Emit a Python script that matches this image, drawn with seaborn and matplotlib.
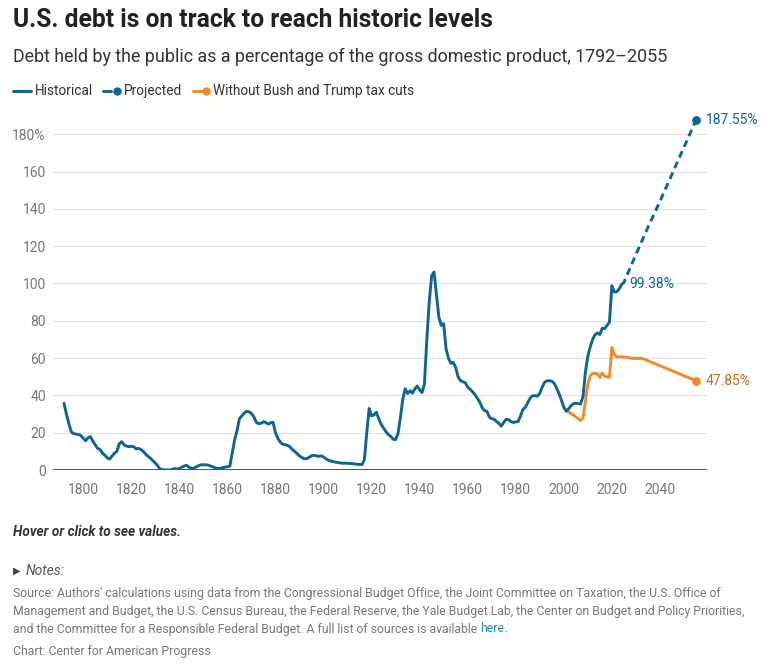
import matplotlib
matplotlib.use("Agg")
import matplotlib.pyplot as plt
import seaborn as sns
import pandas as pd
from matplotlib.lines import Line2D

# historical debt held by the public, % of GDP
hist_years = [1792, 1793, 1794, 1795, 1796, 1798, 1799, 1800, 1801, 1802, 1803, 1804,
              1805, 1806, 1807, 1808, 1809, 1810, 1811, 1812, 1813, 1814, 1815, 1816,
              1817, 1818, 1819, 1820, 1821, 1822, 1823, 1824, 1825, 1826, 1827, 1828,
              1829, 1830, 1831, 1832, 1833, 1834, 1835, 1836, 1837, 1838, 1839, 1840,
              1841, 1842, 1843, 1844, 1845, 1846, 1847, 1848, 1849, 1850, 1851, 1852,
              1853, 1854, 1855, 1856, 1857, 1858, 1859, 1860, 1861, 1862, 1863, 1864,
              1865, 1866, 1867, 1868, 1869, 1870, 1871, 1872, 1873, 1874, 1875, 1876,
              1877, 1878, 1879, 1880, 1881, 1882, 1883, 1884, 1885, 1886, 1887, 1888,
              1889, 1890, 1891, 1892, 1893, 1894, 1895, 1896, 1897, 1898, 1899, 1900,
              1901, 1902, 1903, 1904, 1905, 1906, 1907, 1908, 1909, 1910, 1911, 1912,
              1913, 1914, 1915, 1916, 1917, 1918, 1919, 1920, 1921, 1922, 1923, 1924,
              1925, 1926, 1927, 1928, 1929, 1930, 1931, 1932, 1933, 1934, 1935, 1936,
              1937, 1938, 1939, 1940, 1941, 1942, 1943, 1944, 1945, 1946, 1947, 1948,
              1949, 1950, 1951, 1952, 1953, 1954, 1955, 1956, 1957, 1958, 1959, 1960,
              1961, 1962, 1963, 1964, 1965, 1966, 1967, 1968, 1969, 1970, 1971, 1972,
              1973, 1974, 1975, 1976, 1977, 1978, 1979, 1980, 1981, 1982, 1983, 1984,
              1985, 1986, 1987, 1988, 1989, 1990, 1991, 1992, 1993, 1994, 1995, 1996,
              1997, 1998, 1999, 2000, 2001, 2002, 2003, 2004, 2005, 2006, 2007, 2008,
              2009, 2010, 2011, 2012, 2013, 2014, 2015, 2016, 2017, 2018, 2019, 2020,
              2021, 2022, 2023, 2024]
hist_values = [35.8, 30, 25, 20.5, 19.5, 19, 18.5, 17, 15.7, 17.3, 17.9, 15.5,
               13.5, 11.6, 11, 9, 8, 6.5, 5.9, 7.5, 9, 10, 14, 15.2,
               13.5, 12.8, 12.5, 12.7, 12.5, 11.3, 11.6, 11, 10, 8.5, 7.3, 6.3,
               5, 3.8, 2.2, 0.5, 0.2, 0.1, 0, 0, 0.3, 0.8, 0.5, 0.8,
               1.5, 2.1, 2.5, 1.5, 1, 0.9, 1.7, 2.3, 2.8, 2.8, 2.8, 2.6,
               2.1, 1.6, 1.1, 0.9, 0.8, 1.3, 1.5, 1.8, 2.0, 9, 16, 21,
               27.5, 29, 30.5, 31.5, 31.2, 30.3, 28.6, 25.6, 24.8, 25, 25.9, 25.5,
               24.6, 25.3, 25.6, 20, 17, 15, 13.8, 13.6, 13.2, 12.5, 11, 10,
               8.8, 7.5, 6.7, 6, 6.1, 6.8, 7.6, 7.9, 7.6, 7.3, 7.6, 7,
               6, 5.3, 4.8, 4.5, 4.2, 4, 3.8, 3.6, 3.7, 3.6, 3.5, 3.4,
               3.2, 3.1, 3.0, 2.8, 5.5, 20, 33, 29, 29.5, 31, 27.5, 24.5,
               22.5, 20.5, 19, 18, 16.5, 16.3, 19.5, 28, 38, 43.6, 41, 42.5,
               41.2, 43.5, 45, 43, 41.5, 46, 70, 90, 104, 106.2, 94, 82,
               77.5, 78.5, 65, 60, 57.2, 57.7, 55, 50, 48, 47.3, 46.8, 44.5,
               43.3, 42, 40.5, 38.5, 36.5, 33.5, 31.8, 31.5, 28.4, 27.5, 27.2, 26,
               25, 23.5, 25.5, 27.2, 27.0, 26, 25.5, 25.8, 26, 29, 32.5, 33.6,
               36, 38.5, 39.8, 39.8, 39.6, 41.1, 44.5, 47, 47.8, 47.9, 47.6, 46.5,
               44, 41, 37.5, 33.7, 31.6, 32.7, 34.5, 35.5, 35.8, 35.6, 35.4, 39.5,
               52.5, 61, 66, 70, 72.5, 73.5, 72.6, 76, 75.8, 77.5, 79.2, 98.8,
               95.5, 95.5, 97, 99.38]

proj_years = [2024, 2025, 2030, 2035, 2040, 2045, 2050, 2055]
proj_values = [99.38, 100.5, 115.5, 130, 144, 158.5, 173, 187.55]

cut_years = [2001, 2002, 2003, 2004, 2005, 2006, 2007, 2008, 2009, 2010, 2011, 2012,
             2013, 2014, 2015, 2016, 2017, 2018, 2019, 2020, 2021, 2022, 2023, 2024,
             2025, 2026, 2027, 2028, 2029, 2030, 2031, 2032, 2033, 2055]
cut_values = [31.6, 31.2, 30.2, 29.5, 28.5, 27.5, 26.5, 28, 37, 46, 50.5, 51.8,
              51.8, 51.5, 49.6, 52, 50.3, 50, 49.6, 65.7, 62, 60.7, 60.6, 60.8,
              60.5, 60.5, 60.3, 60, 59.8, 59.8, 59.8, 59.9, 59.7, 47.85]

y_ticks = [0, 20, 40, 60, 80, 100, 120, 140, 160, 180]
y_labels = ["0", "20", "40", "60", "80", "100", "120", "140", "160", "180%"]
x_ticks = [1800, 1820, 1840, 1860, 1880, 1900, 1920, 1940, 1960, 1980, 2000, 2020, 2040]

BLUE = "#0f6590"
ORANGE = "#f28a2a"
ORANGE_TXT = "#c8691a"
GRAY = "#777777"

sns.set_style("white")
plt.rcParams["font.family"] = ["Roboto", "DejaVu Sans"]

W, H = 784, 671
fig = plt.figure(figsize=(W / 100, H / 100), dpi=100)


def fx(x):
    return x / W


def fy(y):
    return 1 - y / H


# axes placed so that 0 sits at y=470px and the grid spans 52..707px
ax = fig.add_axes([fx(52.7), fy(470), fx(707) - fx(52.7), fy(115.6) - fy(470)])

hist = pd.DataFrame({"year": hist_years, "debt": hist_values})
proj = pd.DataFrame({"year": proj_years, "debt": proj_values})
cuts = pd.DataFrame({"year": cut_years, "debt": cut_values})

for yv in y_ticks[1:]:
    ax.axhline(yv, color="#e3e3e3", lw=0.9, zorder=0)
ax.axhline(0, color="#333333", lw=1.2, zorder=1)

sns.lineplot(data=hist, x="year", y="debt", color=BLUE, lw=2.1, ax=ax, zorder=4)
sns.lineplot(data=proj, x="year", y="debt", color=BLUE, lw=2.1, ax=ax,
             dashes=False, linestyle=(0, (2.4, 1.6)), zorder=4)
sns.lineplot(data=cuts, x="year", y="debt", color=ORANGE, lw=2.1, ax=ax, zorder=3)

ax.scatter([proj_years[-1]], [proj_values[-1]], s=28, color=BLUE, zorder=5)
ax.scatter([cut_years[-1]], [cut_values[-1]], s=28, color=ORANGE, zorder=5)

ax.text(proj_years[-1] + 4, proj_values[-1], f"{proj_values[-1]:.2f}%", color=BLUE,
        fontsize=10, va="center", ha="left")
ax.text(proj_years[0] + 3.5, proj_values[0] + 0.5, f"{proj_values[0]:.2f}%", color=BLUE,
        fontsize=10, va="center", ha="left")
ax.text(cut_years[-1] + 4, cut_values[-1], f"{cut_values[-1]:.2f}%", color=ORANGE_TXT,
        fontsize=10, va="center", ha="left")

ax.set_xlim(1787.3, 2059.6)
ax.set_ylim(0, 190)
ax.set_yticks(y_ticks)
ax.set_yticklabels(y_labels)
ax.set_xticks(x_ticks)
ax.tick_params(axis="both", length=0, labelsize=10, colors=GRAY)
ax.tick_params(axis="y", pad=5)
ax.tick_params(axis="x", pad=9)
ax.set_xlabel("")
ax.set_ylabel("")
for s in ax.spines.values():
    s.set_visible(False)
ax.patch.set_alpha(0)

# header
fig.text(fx(13), fy(20), "U.S. debt is on track to reach historic levels",
         fontsize=17.7, fontweight="bold", color="#222222", va="center")
fig.text(fx(13), fy(57), "Debt held by the public as a percentage of the gross domestic product, 1792\u20132055",
         fontsize=12.9, color="#333333", va="center")

# legend
ly = fy(91)
fig.add_artist(Line2D([fx(13), fx(31)], [ly, ly], color=BLUE, lw=2.1))
fig.text(fx(35), ly, "Historical", fontsize=9.8, color="#333333", va="center")
fig.add_artist(Line2D([fx(103), fx(111)], [ly, ly], color=BLUE, lw=2.1))
fig.add_artist(Line2D([fx(117)], [ly], color=BLUE, marker="o", ms=5, lw=0))
fig.text(fx(124), ly, "Projected", fontsize=9.8, color="#333333", va="center")
fig.add_artist(Line2D([fx(193), fx(206)], [ly, ly], color=ORANGE, lw=2.1))
fig.add_artist(Line2D([fx(206)], [ly], color=ORANGE, marker="o", ms=5, lw=0))
fig.text(fx(213), ly, "Without Bush and Trump tax cuts", fontsize=9.8, color="#333333", va="center")

# footer
fig.text(fx(13), fy(532), "Hover or click to see values.", fontsize=9.8, fontweight="bold",
         fontstyle="italic", color="#333333", va="center")
fig.text(fx(13), fy(571), "\u25b6", fontsize=7, color="#444444", va="center",
         family=["DejaVu Sans"])
fig.text(fx(26), fy(571), "Notes:", fontsize=10, fontstyle="italic", color="#555555", va="center")

src_lines = [
    "Source: Authors' calculations using data from the Congressional Budget Office, the Joint Committee on Taxation, the U.S. Office of",
    "Management and Budget, the U.S. Census Bureau, the Federal Reserve, the Yale Budget Lab, the Center on Budget and Policy Priorities,",
    "and the Committee for a Responsible Federal Budget. A full list of sources is available ",
]
src_y = [594, 612, 629]
last = None
for line, yy in zip(src_lines, src_y):
    last = fig.text(fx(13), fy(yy), line, fontsize=8.8, color=GRAY, va="center")

fig.canvas.draw()
bb = last.get_window_extent()
here = fig.text(bb.x1 / W, fy(629), "here", fontsize=8.8, color="#1f8fc0", va="center")
fig.canvas.draw()
bb2 = here.get_window_extent()
fig.text(bb2.x1 / W, fy(629), ".", fontsize=8.8, color=GRAY, va="center")

fig.text(fx(13), fy(652), "Chart: Center for American Progress", fontsize=8.8, color=GRAY, va="center")

fig.savefig("out.png", dpi=100)
